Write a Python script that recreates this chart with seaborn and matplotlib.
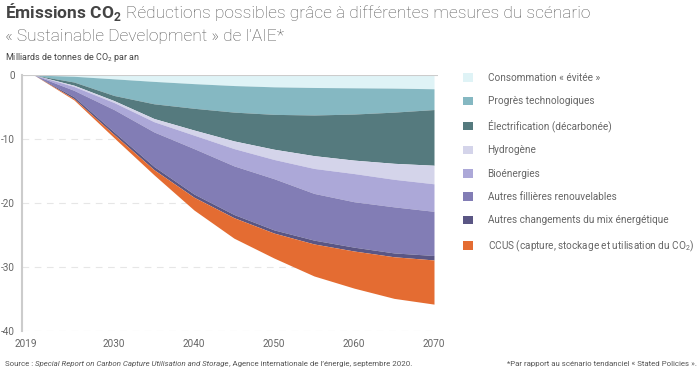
import matplotlib.pyplot as plt
import seaborn as sns
from matplotlib.patches import Patch

# reductions in Gt CO2 per year, by lever
years = [2020, 2025, 2030, 2035, 2040, 2045, 2050, 2055, 2060, 2065, 2070]
consommation = [0, 0.2, 0.6, 1.0, 1.35, 1.65, 1.85, 1.95, 2.0, 2.05, 2.15]
progres = [0, 0.9, 2.6, 3.5, 3.85, 4.15, 4.3, 4.3, 4.1, 3.75, 3.25]
electrification = [0, 0.5, 0.8, 2.3, 3.4, 4.5, 5.45, 6.35, 7.2, 8.0, 8.7]
hydrogene = [0, 0.2, 0.3, 0.5, 0.8, 1.2, 1.6, 2.0, 2.1, 2.5, 2.9]
bioenergies = [0, 0.6, 1.1, 1.6, 2.1, 2.7, 3.0, 3.9, 4.4, 4.3, 4.3]
autres_filieres = [0, 1.0, 3.5, 5.4, 7.1, 7.6, 8.0, 7.3, 7.1, 7.2, 6.9]
autres_mix = [0, 0.3, 0.4, 0.5, 0.5, 0.5, 0.5, 0.6, 0.6, 0.6, 0.7]
ccus = [0, 0.2, 0.5, 0.8, 2.0, 3.2, 3.9, 5.0, 5.8, 6.5, 6.9]

labels = ["Consommation « évitée »", "Progrès technologiques",
          "Électrification (décarbonée)", "Hydrogène", "Bioénergies",
          "Autres fillières renouvelables",
          "Autres changements du mix énergétique",
          "CCUS (capture, stockage et utilisation du CO$_\\mathregular{2}$)"]
colors = ["#dff3f6", "#85b8c2", "#557a7e", "#d4d4ea", "#aca8d8",
          "#827db5", "#5a5684", "#e46c32"]
xticks = [2019, 2030, 2040, 2050, 2060, 2070]
yticks = [0, -10, -20, -30, -40]

sns.set_theme(style="white")
plt.rcParams['font.family'] = ['Roboto', 'DejaVu Sans']
plt.rcParams['mathtext.fontset'] = 'custom'
plt.rcParams['mathtext.rm'] = 'Roboto'

series = [consommation, progres, electrification, hydrogene, bioenergies,
          autres_filieres, autres_mix, ccus]
neg = [[-v for v in s] for s in series]

fig = plt.figure(figsize=(7, 3.68), dpi=100)
ax = fig.add_axes([22/700, 1 - 331/368, 416/700, 256/368])
ax.stackplot(years, *neg, colors=colors, labels=labels, linewidth=0)

ax.set_xlim(2018.5, 2070.5)
ax.set_ylim(-40, 0)
ax.set_xticks(xticks)
ax.set_yticks(yticks)
ax.set_yticklabels([str(v) for v in yticks])  # plain hyphen like the source
ax.tick_params(axis='both', labelsize=7.2, colors='#666666', length=0)
ax.tick_params(axis='y', pad=5)
ax.tick_params(axis='x', pad=6)
ax.yaxis.grid(True, color='#e6e6e6', linestyle=(0, (6, 5)), linewidth=0.8)
ax.set_axisbelow(True)
sns.despine(ax=ax, top=True, right=True, bottom=True)
ax.spines['left'].set_color('#cccccc')
ax.spines['left'].set_linewidth(1.5)
ax.axhline(0, color='#cccccc', linewidth=1.5, zorder=5)

# legend
handles = [Patch(facecolor=c, edgecolor='none') for c in colors]
fig.legend(handles, labels, loc='upper left', bbox_to_anchor=(459/700, 1 - 69/368),
           frameon=False, fontsize=7.2, labelcolor='#666666', handlelength=0.95,
           handleheight=0.95, handletextpad=1.5, labelspacing=1.33, borderaxespad=0)

# title
renderer = fig.canvas.get_renderer()
t1 = fig.text(5/700, 1 - 18/368, "Émissions CO$_\\mathregular{2}$", fontsize=12.5,
              fontweight='bold', color='#444444', va='baseline')
bb = t1.get_window_extent(renderer)
fig.text(bb.x1/700 + 4/700, 1 - 18/368,
         "Réductions possibles grâce à différentes mesures du scénario",
         fontsize=12.5, fontweight='light', color='#555555', va='baseline')
fig.text(5/700, 1 - 41/368, "« Sustainable Development » de l’AIE*", fontsize=12.5,
         fontweight='light', color='#555555', va='baseline')
fig.text(5/700, 1 - 60/368, "Milliards de tonnes de CO$_\\mathregular{2}$ par an",
         fontsize=6.5, color='#444444', va='baseline')

# footer
fs = 5.7
t2 = fig.text(5/700, 1 - 366/368, "Source : ", fontsize=fs, color='#555555', va='baseline')
bb = t2.get_window_extent(renderer)
t3 = fig.text(bb.x1/700, 1 - 366/368,
              "Special Report on Carbon Capture Utilisation and Storage",
              fontsize=fs, color='#555555', style='italic', va='baseline')
bb = t3.get_window_extent(renderer)
fig.text(bb.x1/700, 1 - 366/368,
         ", Agence internationale de l’énergie, septembre 2020.",
         fontsize=fs, color='#555555', va='baseline')
fig.text(697/700, 1 - 366/368,
         "*Par rapport au scénario tendanciel « Stated Policies ».",
         fontsize=fs, color='#555555', va='baseline', ha='right')

fig.savefig("out.png", dpi=100)
